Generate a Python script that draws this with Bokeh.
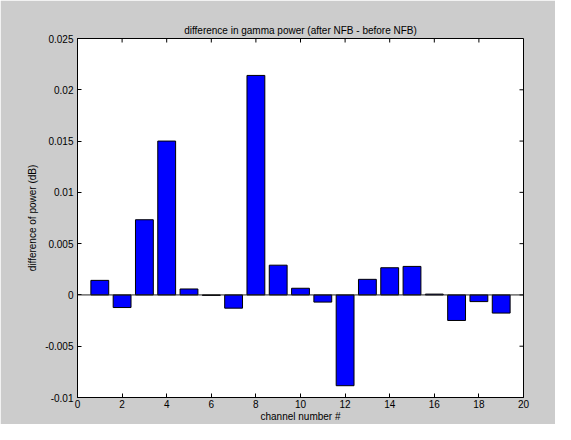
import math
from bokeh.plotting import figure
from bokeh.models import FixedTicker, Span, Range1d
from bokeh.embed import file_html
from bokeh.resources import INLINE

# ---- data ----
channels = [1, 2, 3, 4, 5, 6, 7, 8, 9, 10, 11, 12, 13, 14, 15, 16, 17, 18, 19]
power_diff = [0.00142, -0.00123, 0.00733, 0.0150, 0.00058, -0.00005, -0.00129,
              0.0214, 0.0029, 0.00065, -0.0007, -0.00885, 0.00152, 0.00265,
              0.00278, 0.00008, -0.00249, -0.00065, -0.00177]
x_ticks = [0, 2, 4, 6, 8, 10, 12, 14, 16, 18, 20]
y_ticks = [-0.01, -0.005, 0, 0.005, 0.01, 0.015, 0.02, 0.025]
y_tick_labels = ["-0.01", "-0.005", "0", "0.005", "0.01", "0.015", "0.02", "0.025"]
title_text = "difference in gamma power (after NFB - before NFB)"
x_label = "channel number #"
y_label = "difference of power (dB)"

FONT = "Liberation Sans"
FS = "10px"

p = figure(width=555, height=424, output_backend="svg", toolbar_location=None,
           x_range=Range1d(x_ticks[0], x_ticks[-1]),
           y_range=Range1d(y_ticks[0], y_ticks[-1]),
           min_border_left=77, min_border_right=32, min_border_top=38,
           min_border_bottom=25, title=title_text)
p.background_fill_color = "white"
p.border_fill_color = "#cccccc"
p.outline_line_color = "black"
p.outline_line_width = 1
p.grid.visible = False

p.title.align = "center"
p.title.text_font = FONT
p.title.text_font_size = FS
p.title.text_font_style = "normal"
p.title.text_color = "black"
p.title.standoff = 5

p.vbar(x=channels, top=power_diff, bottom=0, width=0.8,
       fill_color="#0000ff", line_color="black", line_width=1)
p.add_layout(Span(location=0, dimension="width", line_color="#222222", line_width=1))

# mirrored inward ticks on the top and right edges of the box
p.ray(x=x_ticks, y=[y_ticks[-1]] * len(x_ticks), length=4, length_units="screen",
      angle=-math.pi / 2, line_color="black", line_width=1)
p.ray(x=[x_ticks[-1]] * len(y_ticks), y=y_ticks, length=4, length_units="screen",
      angle=math.pi, line_color="black", line_width=1)

def style_axis(ax, ticks):
    ax.ticker = FixedTicker(ticks=ticks)
    ax.major_tick_in = 4
    ax.major_tick_out = 0
    ax.minor_tick_in = 0
    ax.minor_tick_out = 0
    ax.axis_line_color = "black"
    ax.major_tick_line_color = "black"
    ax.major_label_text_font = FONT
    ax.major_label_text_font_size = FS
    ax.major_label_text_color = "black"
    ax.axis_label_text_font = FONT
    ax.axis_label_text_font_size = FS
    ax.axis_label_text_font_style = "normal"
    ax.axis_label_text_color = "black"

xa = p.xaxis[0]
style_axis(xa, x_ticks)
xa.axis_label = x_label
xa.major_label_standoff = 2
xa.axis_label_standoff = 0

ya = p.yaxis[0]
style_axis(ya, y_ticks)
ya.axis_label = y_label
ya.major_label_standoff = 4
ya.axis_label_standoff = 4
ya.major_label_overrides = {t: s for t, s in zip(y_ticks, y_tick_labels)}

open("out.html", "w").write(file_html(p, INLINE))
